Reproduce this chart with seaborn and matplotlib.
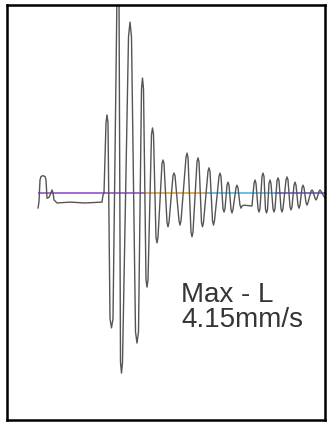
import matplotlib
matplotlib.use("Agg")
import matplotlib.pyplot as plt
import seaborn as sns
import pandas as pd

# Waveform vertices: time (sample units) and velocity (mm/s)
time = [38, 39, 40, 41, 43, 45, 46, 47, 49, 50, 52, 53, 54, 57, 70, 85, 102, 103, 104,
        106, 107, 108,
        110, 111.5, 113,
        117, 118, 119,
        120.5, 121.5, 122.5,
        128.5, 130, 131.5,
        135.5, 137, 138.5,
        141.5, 142.5, 143.5,
        146, 147, 148,
        151.5, 152.5, 153.5,
        156, 157, 158,
        162, 163, 164,
        167, 168, 169,
        173, 174, 175,
        179, 180, 181,
        186, 187, 188,
        191, 192, 193,
        197, 198, 199,
        201.5, 202.5, 203.5,
        208, 209, 210,
        212.5, 213.5, 214.5,
        219, 220, 221,
        223, 224, 225,
        227, 228, 229,
        231, 232, 233,
        236, 237, 238,
        240, 241, 242, 244, 252,
        254, 255, 256,
        258, 259, 260,
        262, 263, 264,
        265.5, 266.5, 267.5,
        269, 270, 271,
        273, 274, 275,
        277, 278, 279,
        281, 282, 283,
        286, 287, 288,
        290, 291, 292,
        294, 295, 296,
        298, 299, 300,
        302, 303, 304,
        306, 307, 308,
        311, 312, 313,
        315, 316, 317,
        319, 320, 321,
        325]
velocity = [-0.35, -0.20, 0.30, 0.38, 0.40, 0.38, 0.30, -0.12, -0.10, -0.05, 0.07, 0.0,
            -0.16, -0.23, -0.21, -0.23, -0.21, -0.05, 0.0,
            1.62, 1.80, 1.62,
            -2.90, -3.11, -2.90,
            4.60, 4.90, 4.60,
            -3.90, -4.15, -3.90,
            3.60, 3.94, 3.60,
            -3.20, -3.46, -3.20,
            2.40, 2.65, 2.40,
            -2.00, -2.17, -2.00,
            1.35, 1.50, 1.35,
            -1.02, -1.15, -1.02,
            0.68, 0.76, 0.68,
            -0.68, -0.78, -0.68,
            0.40, 0.46, 0.40,
            -0.64, -0.74, -0.64,
            0.82, 0.92, 0.82,
            -0.90, -1.01, -0.90,
            0.72, 0.81, 0.72,
            -0.68, -0.78, -0.68,
            0.50, 0.58, 0.50,
            -0.64, -0.74, -0.64,
            0.38, 0.46, 0.38,
            -0.36, -0.44, -0.36,
            0.18, 0.25, 0.18,
            -0.38, -0.46, -0.38,
            0.12, 0.18, 0.12,
            -0.28, -0.35, -0.30, -0.28, -0.30,
            0.22, 0.30, 0.22,
            -0.36, -0.44, -0.36,
            0.38, 0.46, 0.38,
            -0.38, -0.46, -0.38,
            0.22, 0.30, 0.22,
            -0.36, -0.44, -0.36,
            0.28, 0.35, 0.28,
            -0.36, -0.44, -0.36,
            0.30, 0.37, 0.30,
            -0.32, -0.39, -0.32,
            0.18, 0.25, 0.18,
            -0.28, -0.35, -0.28,
            0.12, 0.18, 0.12,
            -0.22, -0.28, -0.22,
            0.04, 0.07, 0.04,
            -0.12, -0.16, -0.12,
            0.04, 0.07, 0.04,
            -0.12]

# Zero-reference line segments (start, end, colour)
ref_start = [38, 145, 205, 275]
ref_end = [145, 205, 275, 327]
ref_colors = ["#9b5fd0", "#e0a64a", "#5bb8e6", "#6f63d8"]

label_lines = ["Max - L", "4.15mm/s"]

sns.set_style("white")
plt.rcParams["font.family"] = ["Liberation Sans", "DejaVu Sans"]

fig = plt.figure(figsize=(3.27, 4.24), dpi=100)
ax = fig.add_axes([7 / 327, 4 / 424, 318 / 327, 415 / 424])

k = 4.15 / 180.0
ax.set_xlim(7, 325)
ax.set_ylim((193 - 420) * k, (193 - 5) * k)

for s, e, c in zip(ref_start, ref_end, ref_colors):
    ax.hlines(0, s, e, color=c, linewidth=1.3, zorder=1)

df = pd.DataFrame({"time": time, "velocity": velocity})
sns.lineplot(data=df, x="time", y="velocity", sort=False, estimator=None,
             color="#555555", linewidth=1.0, ax=ax, zorder=2)

ax.text(181, (193 - 302) * k, label_lines[0], fontsize=20, color="#353535",
        va="baseline", ha="left")
ax.text(181, (193 - 327) * k, label_lines[1], fontsize=20, color="#353535",
        va="baseline", ha="left")

ax.set_xticks([])
ax.set_yticks([])
ax.set_xlabel("")
ax.set_ylabel("")
for sp in ax.spines.values():
    sp.set_visible(True)
    sp.set_color("black")
    sp.set_linewidth(1.8)

fig.savefig("out.png", dpi=100)
